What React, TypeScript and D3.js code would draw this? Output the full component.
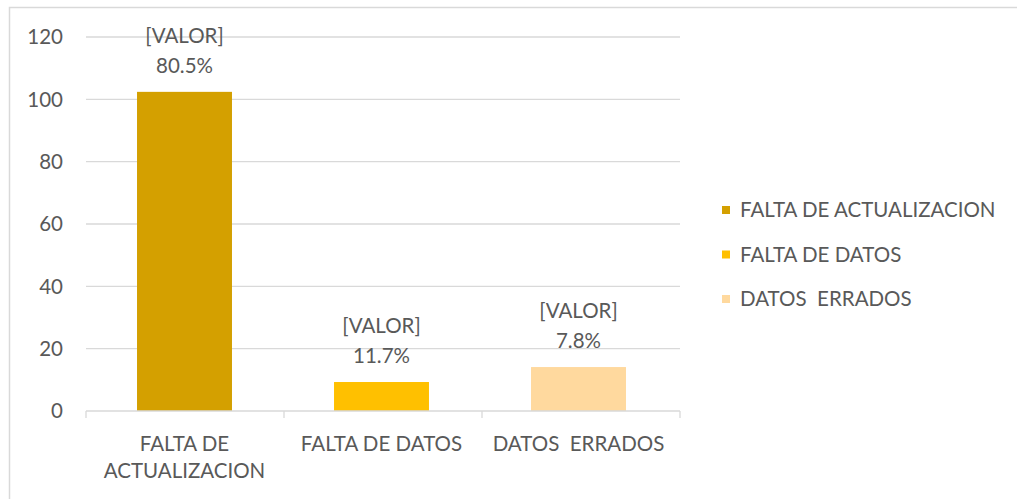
import React from "react";
import * as d3 from "d3";

const categories = ["FALTA DE ACTUALIZACION", "FALTA DE DATOS", "DATOS  ERRADOS"];
const axisLabels = [["FALTA DE", "ACTUALIZACION"], ["FALTA DE DATOS"], ["DATOS  ERRADOS"]];
const values = [102.4, 9.3, 14.1];
const percentLabels = ["80.5%", "11.7%", "7.8%"];
const colors = ["#D4A000", "#FFC000", "#FFD99E"];
const yTicks = [0, 20, 40, 60, 80, 100, 120];

const W = 1017;
const H = 499;
const FONT = "Lato, 'Open Sans', sans-serif";
const TXT = "#595959";
const FS = 20.5;

export default function App() {
  const left = 86, right = 677, top = 37, bottom = 411;
  const x = d3.scaleBand<string>().domain(categories).range([left, right]).paddingInner(0.518).paddingOuter(0.259);
  const y = d3.scaleLinear().domain([0, 120]).range([bottom, top]);
  return (
    <svg width={W} height={H} style={{ position: "absolute", left: 0, top: 0, background: "#fff" }} fontFamily={FONT}>
      <rect x={9.5} y={7.5} width={1040} height={520} fill="#fff" stroke="#D9D9D9" strokeWidth={1.5} />
      {yTicks.map((t) => (
        <g key={t}>
          {t > 0 && <line x1={left} x2={right + 3} y1={y(t)} y2={y(t)} stroke="#D9D9D9" strokeWidth={1.3} />}
          <text x={63} y={y(t)} dy="0.35em" textAnchor="end" fontSize={FS} fill={TXT}>{t}</text>
        </g>
      ))}
      {categories.map((c, i) => (
        <rect key={c} x={x(c)} y={y(values[i])} width={x.bandwidth()} height={bottom - y(values[i])} fill={colors[i]} />
      ))}
      <line x1={left} x2={right + 3} y1={bottom} y2={bottom} stroke="#D9D9D9" strokeWidth={1.3} />
      {[0, 1, 2, 3].map((k) => {
        const tx = left + ((right + 3 - left) / 3) * k;
        return <line key={k} x1={tx} x2={tx} y1={bottom} y2={bottom + 7} stroke="#D9D9D9" strokeWidth={1.3} />;
      })}
      {categories.map((c, i) => {
        const cx = x(c)! + x.bandwidth() / 2;
        const yl = y(values[i]);
        return (
          <g key={"l" + c}>
            <text x={cx} y={yl - 56} dy="0.35em" textAnchor="middle" fontSize={FS} fill={TXT}>[VALOR]</text>
            <text x={cx} y={yl - 26} dy="0.35em" textAnchor="middle" fontSize={FS} fill={TXT}>{percentLabels[i]}</text>
            {axisLabels[i].map((ln, j) => (
              <text key={j} x={cx} y={444 + j * 27} dy="0.35em" textAnchor="middle" fontSize={FS} fill={TXT} style={{ whiteSpace: "pre" }}>{ln}</text>
            ))}
          </g>
        );
      })}
      {categories.map((c, i) => (
        <g key={"g" + c} transform={`translate(722, ${210 + i * 44.5})`}>
          <rect x={0} y={-4} width={8} height={8} fill={colors[i]} />
          <text x={18} y={0} dy="0.35em" fontSize={FS} fill={TXT} style={{ whiteSpace: "pre" }}>{c}</text>
        </g>
      ))}
    </svg>
  );
}
